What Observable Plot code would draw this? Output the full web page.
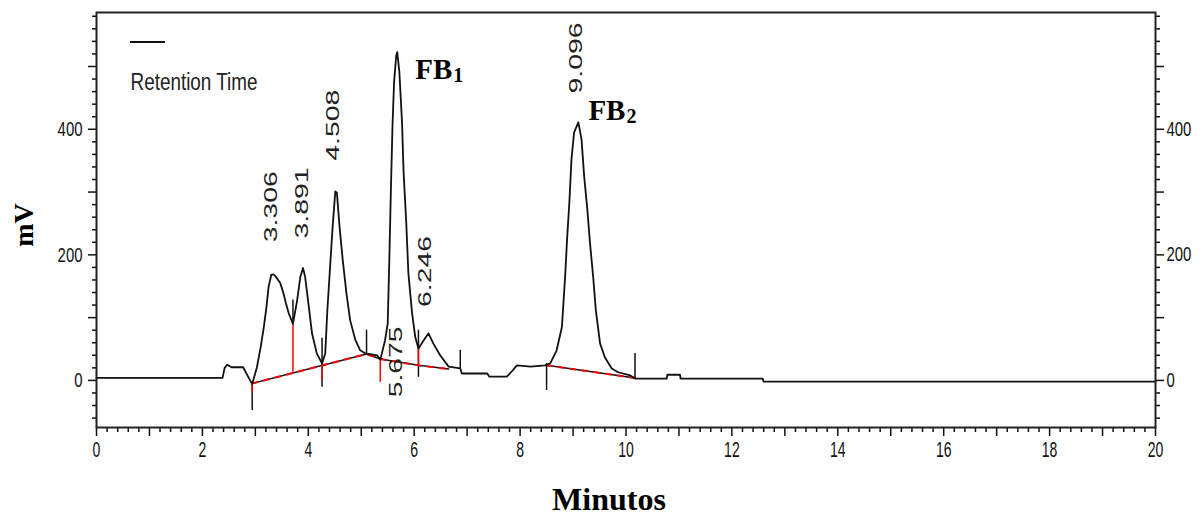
<!DOCTYPE html>
<html>
<head>
<meta charset="utf-8">
<script src="https://cdn.jsdelivr.net/npm/d3@7"></script>
<script src="https://cdn.jsdelivr.net/npm/@observablehq/plot@0.6"></script>
<style>
  html, body { margin: 0; padding: 0; background: #fff; }
  #chart svg { display: block; }
</style>
</head>
<body>
<div id="chart"></div>
<script>
// ---- chromatogram trace (minutes, mV) ----
const timeMin = [0, 2.38, 2.42, 2.47, 2.55, 2.77, 2.85, 2.94, 3.03, 3.10, 3.16, 3.21, 3.25, 3.30, 3.34, 3.38, 3.47, 3.53, 3.58, 3.63, 3.71, 3.79, 3.85, 3.90, 3.94, 4.01, 4.07, 4.16, 4.26, 4.32, 4.36, 4.42, 4.46, 4.51, 4.54, 4.59, 4.65, 4.72, 4.79, 4.89, 4.98, 5.08, 5.30, 5.36, 5.45, 5.50, 5.53, 5.56, 5.59, 5.62, 5.66, 5.68, 5.72, 5.77, 5.80, 5.85, 5.89, 5.96, 6.02, 6.08, 6.18, 6.27, 6.36, 6.49, 6.65, 6.87, 6.90, 7.38, 7.42, 7.75, 7.85, 7.94, 8.20, 8.47, 8.57, 8.69, 8.79, 8.85, 8.89, 8.93, 8.97, 9.02, 9.10, 9.16, 9.21, 9.27, 9.32, 9.38, 9.43, 9.51, 9.60, 9.73, 9.85, 10.08, 10.17, 10.77, 10.78, 11.02, 11.03, 12.58, 12.60, 20];
const signalMV = [4, 4, 20, 25, 21, 21, 8, -6, 21, 53, 85, 117, 149, 168, 169, 166, 155, 139, 122, 107, 90, 128, 165, 179, 165, 117, 75, 43, 27, 43, 112, 192, 245, 301, 299, 245, 192, 139, 96, 64, 48, 43, 40, 33, 64, 91, 192, 304, 405, 475, 517, 523, 491, 411, 331, 251, 171, 107, 69, 51, 64, 75, 59, 40, 22, 19, 11, 11, 6, 6, 15, 24, 22, 24, 27, 48, 85, 165, 229, 283, 352, 395, 411, 384, 325, 272, 219, 165, 112, 59, 37, 19, 13, 8, 3, 3, 9, 9, 3, 3, -2, -2];

// ---- integration baseline (red) ----
const baseSeg = ["A", "A", "A", "B", "B", "B", "C", "C"];
const baseT   = [2.94, 5.10, 5.36, 5.36, 6.08, 6.65, 8.50, 10.17];
const baseMV  = [-5, 42, 34, 34, 24, 18, 24, 4];

// ---- peak start / end markers (black) ----
const markT  = [2.94, 3.71, 4.26, 5.10, 6.08, 6.87, 8.50, 10.17];
const markLo = [-48, 88, -11, 42, 5, 19, -16, 3];
const markHi = [-6, 128, 67, 80, 80, 48, 27, 43];

// ---- drop lines (red) ----
const dropT  = [2.94, 3.71, 4.26, 5.36, 6.08];
const dropLo = [-20, 13, 0, -3, 22];
const dropHi = [-6, 88, 25, 33, 51];

// ---- retention-time labels ----
const peakLabel   = ["3.306", "3.891", "4.508", "5.675", "6.246", "9.096"];
const peakLabelT  = [3.29, 3.88, 4.47, 5.66, 6.20, 9.06];
const peakLabelMV = [220, 226, 350, -27, 117, 457];

// ---- compound labels ----
const fbMain = ["FB", "FB"];
const fbSub  = ["1", "2"];
const fbT    = [6.02, 9.29];
const fbMV   = [480, 415];

// ---- axes ----
const xTickLabels = [0, 2, 4, 6, 8, 10, 12, 14, 16, 18, 20];
const yTickLabels = [0, 200, 400];
const xDomain = [0, 20];
const yDomain = [-75, 586];

// build tables
const trace = timeMin.map((t, i) => ({t, mV: signalMV[i]}));
const base = baseT.map((t, i) => ({t, mV: baseMV[i], seg: baseSeg[i]}));
const marks = markT.map((t, i) => ({t, lo: markLo[i], hi: markHi[i]}));
const drops = dropT.map((t, i) => ({t, lo: dropLo[i], hi: dropHi[i]}));
const peaks = peakLabel.map((label, i) => ({label, t: peakLabelT[i], mV: peakLabelMV[i]}));
const fbs = fbMain.map((main, i) => ({main, sub: fbSub[i], t: fbT[i], mV: fbMV[i]}));

const xInt = d3.range(1, 20, 2);
const xMinor = d3.range(0, 101).map(i => i / 5).filter(v => Math.abs(v - Math.round(v)) > 1e-6);
const yMid = [100, 300, 500];
const yMinor = d3.range(-60, 581, 20).filter(v => v % 100 !== 0);

const legendLine = (index, scales, values, dimensions) => {
  const g = d3.create("svg:g").attr("aria-label", "legend line");
  g.append("line")
    .attr("x1", dimensions.marginLeft + 34).attr("x2", dimensions.marginLeft + 69)
    .attr("y1", dimensions.marginTop + 30).attr("y2", dimensions.marginTop + 30)
    .attr("stroke", "#111").attr("stroke-width", 2);
  return g.node();
};

const tickStyle = {strokeWidth: 1.5, stroke: "#111"};
const serif = "'Liberation Serif', 'Times New Roman', serif";

const chart = Plot.plot({
  width: 1203,
  height: 518,
  marginLeft: 96,
  marginRight: 48,
  marginTop: 12,
  marginBottom: 91,
  style: {fontFamily: "'Liberation Sans', Arial, sans-serif", fontSize: "21px", background: "#fff", color: "#111"},
  x: {domain: xDomain, label: null},
  y: {domain: yDomain, label: null},
  marks: [
    // axes: bottom
    Plot.axisX({anchor: "bottom", ticks: xTickLabels, tickSize: 9, tickPadding: 5, label: null, ...tickStyle, fill: "#111", fontSize: 22}),
    Plot.axisX({anchor: "bottom", ticks: xInt, tickSize: 9, label: null, fill: "none", ...tickStyle}),
    Plot.axisX({anchor: "bottom", ticks: xMinor, tickSize: 5, label: null, fill: "none", ...tickStyle}),
    // axes: left
    Plot.axisY({anchor: "left", ticks: yTickLabels, tickSize: 8, tickPadding: 6, label: null, ...tickStyle, fill: "#111", fontSize: 21}),
    Plot.axisY({anchor: "left", ticks: yMid, tickSize: 8, label: null, fill: "none", ...tickStyle}),
    Plot.axisY({anchor: "left", ticks: yMinor, tickSize: 4, label: null, fill: "none", ...tickStyle}),
    // axes: right
    Plot.axisY({anchor: "right", ticks: yTickLabels, tickSize: 8, tickPadding: 3, label: null, ...tickStyle, fill: "#111", fontSize: 20}),
    Plot.axisY({anchor: "right", ticks: yMid, tickSize: 8, label: null, fill: "none", ...tickStyle}),
    Plot.axisY({anchor: "right", ticks: yMinor, tickSize: 4, label: null, fill: "none", ...tickStyle}),
    // integration baseline
    Plot.line(base, {x: "t", y: "mV", z: "seg", stroke: "#111", strokeWidth: 1.5}),
    Plot.line(base, {x: "t", y: "mV", z: "seg", stroke: "#ff0000", strokeWidth: 2, strokeDasharray: "5,7"}),
    // markers
    Plot.ruleX(marks, {x: "t", y1: "lo", y2: "hi", stroke: "#111", strokeWidth: 1.5}),
    Plot.ruleX(drops, {x: "t", y1: "lo", y2: "hi", stroke: "#ff0000", strokeWidth: 1.5}),
    // trace
    Plot.line(trace, {x: "t", y: "mV", stroke: "#111", strokeWidth: 1.8}),
    // retention time labels
    Plot.text(peaks, {x: "t", y: "mV", text: "label", rotate: -90, textAnchor: "start", lineAnchor: "middle", fontSize: 19, fill: "#222"}),
    // compound labels
    Plot.text(fbs, {x: "t", y: "mV", text: "main", textAnchor: "start", lineAnchor: "bottom", fontSize: 29, fontWeight: "bold", fontFamily: serif, fill: "#000"}),
    Plot.text(fbs, {x: "t", y: "mV", text: "sub", dx: 38, dy: 3, textAnchor: "start", lineAnchor: "bottom", fontSize: 20, fontWeight: "bold", fontFamily: serif, fill: "#000"}),
    // legend
    legendLine,
    Plot.text(["Retention Time"], {text: d => d, frameAnchor: "top-left", dx: 34, dy: 77, textAnchor: "start", lineAnchor: "bottom", fontSize: 24.7, fill: "#222"}),
    // axis titles
    Plot.text(["Minutos"], {text: d => d, frameAnchor: "bottom", dx: -17, dy: 82, lineAnchor: "bottom", fontSize: 32, fontWeight: "bold", fontFamily: serif, fill: "#000"}),
    Plot.text(["mV"], {text: d => d, frameAnchor: "left", dx: -72, dy: 5, rotate: -90, textAnchor: "middle", lineAnchor: "middle", fontSize: 28, fontWeight: "bold", fontFamily: serif, fill: "#000"}),
    Plot.frame({stroke: "#222", strokeWidth: 2})
  ]
});

// condensed / stretched lettering like the instrument printout
chart.querySelectorAll("text").forEach(t => {
  const s = t.textContent;
  const g = t.closest("g[aria-label]");
  const lab = g ? g.getAttribute("aria-label") : "";
  let L = null;
  if (lab.includes("x-axis tick label")) L = s.length * 7.8;
  else if (lab.includes("y-axis tick label")) L = s.length * 8.3;
  else if (peakLabel.includes(s)) L = 71;
  else if (s === "Retention Time") L = 127;
  if (L) { t.setAttribute("textLength", L); t.setAttribute("lengthAdjust", "spacingAndGlyphs"); }
});

document.getElementById("chart").appendChild(chart);
</script>
</body>
</html>
